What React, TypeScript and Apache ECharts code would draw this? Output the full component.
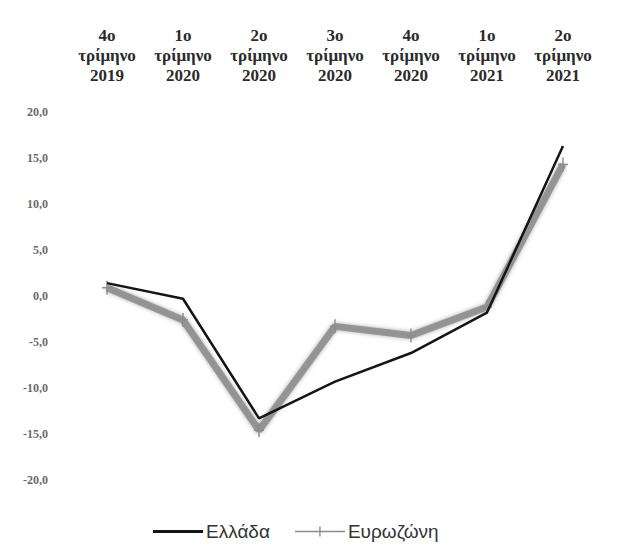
import React, { useEffect, useRef } from "react";
import * as echarts from "echarts";

const categories = [
  "4ο\nτρίμηνο\n2019",
  "1ο\nτρίμηνο\n2020",
  "2ο\nτρίμηνο\n2020",
  "3ο\nτρίμηνο\n2020",
  "4ο\nτρίμηνο\n2020",
  "1ο\nτρίμηνο\n2021",
  "2ο\nτρίμηνο\n2021",
];
const greece = [1.4, -0.3, -13.3, -9.3, -6.2, -1.8, 16.3];
const eurozone = [0.9, -2.6, -14.6, -3.3, -4.3, -1.2, 14.3];
const seriesNames = ["Ελλάδα", "Ευρωζώνη"];

const plusSymbol = "path://M4.3,0h1.4v14h-1.4z M0,6.3h10v1.4h-10z";
const greeceIcon =
  "path://M0,0h0.01v0.01h-0.01z M0,5.6h50v2.8h-50z M49.99,13.99h0.01v0.01h-0.01z";
const euroIcon =
  "path://M0,0h0.01v0.01h-0.01z M0,6.2h50v1.6h-50z M24.3,2h1.4v10h-1.4z M49.99,13.99h0.01v0.01h-0.01z";

export default function App() {
  const ref = useRef<HTMLDivElement>(null);
  useEffect(() => {
    document.body.style.margin = "0";
    if (!ref.current) return;
    const chart = echarts.init(ref.current, undefined, { renderer: "svg" });
    chart.setOption({
      animation: false,
      backgroundColor: "#ffffff",
      grid: { left: 107, right: 57, top: 112, bottom: 76, containLabel: false },
      xAxis: {
        type: "category",
        position: "top",
        data: categories,
        boundaryGap: false,
        axisLine: { show: false },
        axisTick: { show: false },
        splitLine: { show: false },
        axisLabel: {
          interval: 0,
          margin: 27,
          lineHeight: 20,
          fontSize: 17,
          fontWeight: "bold",
          fontFamily: "Liberation Serif",
          color: "#2b2b2b",
        },
      },
      yAxis: {
        type: "value",
        min: -20,
        max: 20,
        interval: 5,
        axisLine: { show: false },
        axisTick: { show: false },
        splitLine: { show: false },
        axisLabel: {
          margin: 59,
          fontSize: 12,
          fontWeight: "bold",
          fontFamily: "Liberation Serif",
          color: "#6a6a6a",
          formatter: (v: number) => v.toFixed(1).replace(".", ","),
        },
      },
      legend: {
        top: 517,
        left: 148,
        itemGap: 25,
        itemWidth: 50,
        itemHeight: 14,
        textStyle: { fontSize: 19, fontFamily: "Liberation Sans", color: "#333333", padding: [0, 0, 0, -2] },
        data: [
          { name: seriesNames[0], icon: greeceIcon },
          { name: seriesNames[1], icon: euroIcon },
        ],
      },
      series: [
        {
          name: seriesNames[1],
          type: "line",
          data: eurozone,
          symbol: plusSymbol,
          symbolSize: [10, 14],
          showSymbol: true,
          itemStyle: { color: "#8c8c8c" },
          lineStyle: {
            color: "#8c8c8c",
            width: 7,
            opacity: 0.85,
            shadowBlur: 4,
            shadowColor: "rgba(90,90,90,0.6)",
          },
          z: 2,
        },
        {
          name: seriesNames[0],
          type: "line",
          data: greece,
          symbol: "none",
          itemStyle: { color: "#151515" },
          lineStyle: { color: "#151515", width: 2.5 },
          z: 3,
        },
      ],
    });
    return () => chart.dispose();
  }, []);
  return <div ref={ref} style={{ width: 620, height: 556 }} />;
}
